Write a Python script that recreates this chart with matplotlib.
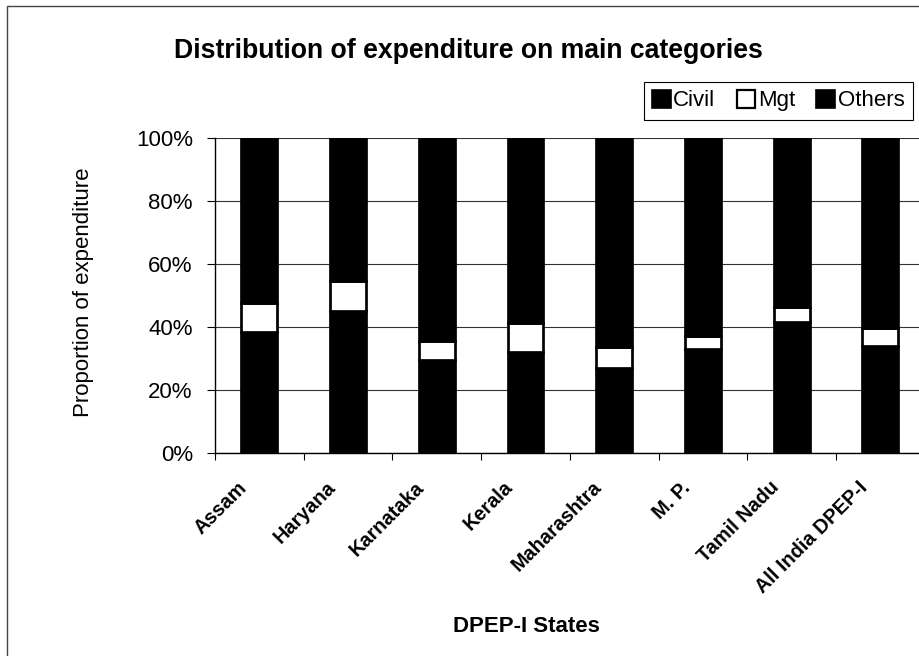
import numpy as np
import matplotlib
matplotlib.use("Agg")
import matplotlib.pyplot as plt
import matplotlib.transforms as mtransforms
from matplotlib.patches import Rectangle
from matplotlib.ticker import FuncFormatter, FixedLocator

plt.rcParams['font.family'] = ['Liberation Sans', 'DejaVu Sans']

states = ["Assam", "Haryana", "Karnataka", "Kerala", "Maharashtra",
          "M. P.", "Tamil Nadu", "All India DPEP-I"]
civil = [38.2, 44.9, 29.4, 31.9, 26.9, 33.0, 41.4, 34.0]   # % share
mgt = [9.4, 9.7, 5.9, 9.1, 6.7, 3.9, 4.7, 5.7]
others = [52.4, 45.4, 64.7, 59.0, 66.4, 63.1, 53.9, 60.3]

W, H = 920, 656
fig = plt.figure(figsize=(W / 100, H / 100), dpi=100)

# plot area (right edge runs past the cropped picture, as in the scan)
ax = fig.add_axes([215 / W, 1 - 452.7 / H, 709.7 / W, 315.2 / H])

x = np.arange(len(states))
bw = 0.404
edge = 1.95  # heavy black outline on every segment
ax.bar(x, civil, bw, color="black", edgecolor="black", lw=edge, label="Civil", zorder=3)
ax.bar(x, mgt, bw, bottom=civil, color="white", edgecolor="black", lw=edge, label="Mgt", zorder=3)
bottom2 = np.array(civil) + np.array(mgt)
ax.bar(x, others, bw, bottom=bottom2, color="black", edgecolor="black", lw=edge, label="Others", zorder=3)

ax.set_xlim(-0.5, len(states) - 0.5)
ax.set_ylim(0, 100)
ax.set_yticks(np.arange(0, 101, 20))
ax.yaxis.set_major_formatter(FuncFormatter(lambda v, p: f"{v:.0f}%"))
ax.yaxis.grid(True, color="#333333", lw=0.8, zorder=0)
ax.tick_params(axis="y", direction="out", length=6, width=0.8, pad=10, labelsize=16)

ax.set_xticks(x)
ax.set_xticklabels(states, rotation=45, ha="right", fontsize=14.3, fontweight="bold")
ax.xaxis.set_minor_locator(FixedLocator(np.arange(-0.5, len(states), 1)))
ax.tick_params(axis="x", which="major", length=0, pad=18)
ax.tick_params(axis="x", which="minor", direction="out", length=5, width=0.8)
shift = mtransforms.ScaledTranslation(-9 / 100, 0, fig.dpi_scale_trans)
for lab in ax.get_xticklabels():
    lab.set_transform(lab.get_transform() + shift)

for s in ["top", "right"]:
    ax.spines[s].set_visible(False)
for s in ["left", "bottom"]:
    ax.spines[s].set_linewidth(1.0)

fig.text(468 / W, 1 - 51 / H, "Distribution of expenditure on main categories",
         ha="center", va="center", fontsize=19.2, fontweight="bold")
fig.text(83 / W, 1 - 292 / H, "Proportion of expenditure", rotation=90,
         ha="center", va="center", fontsize=16)
fig.text(526 / W, 1 - 626 / H, "DPEP-I States", ha="center", va="center",
         fontsize=16, fontweight="bold")

handles = [Rectangle((0, 0), 1, 1, fc="black", ec="black", lw=1.2),
           Rectangle((0, 0), 1, 1, fc="white", ec="black", lw=1.6),
           Rectangle((0, 0), 1, 1, fc="black", ec="black", lw=1.2)]
leg = fig.legend(handles, ["Civil", "Mgt", "Others"], loc="upper right",
                 bbox_to_anchor=(913 / W, 1 - 81.7 / H), ncol=3, fontsize=16,
                 frameon=True, fancybox=False, edgecolor="black", framealpha=1,
                 borderaxespad=0, borderpad=0.37, handlelength=0.85,
                 handleheight=0.85, handletextpad=0.12, columnspacing=0.95)
leg.get_frame().set_linewidth(0.8)

# outer chart frame (cropped at right and bottom)
fig.patches.append(Rectangle((7 / W, -0.1), 1.2, 1.1 - 6 / H, transform=fig.transFigure,
                             fill=False, ec="#444444", lw=1.0))

fig.savefig("out.png", dpi=100)
